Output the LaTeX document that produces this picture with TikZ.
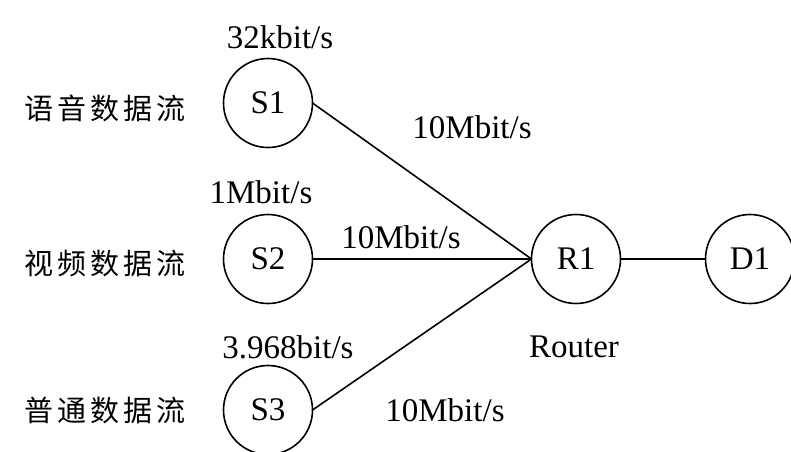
\documentclass[tikz,border=0pt]{standalone}
\usepackage{tkz-graph}
\usepackage{fontspec}
\setmainfont{Liberation Serif}
\newfontfamily\cjk[LetterSpace=14]{Noto Sans CJK SC}

\tikzset{VertexStyle/.style = {shape=circle, draw=black, line width=1.6pt,
    minimum size=89pt, inner sep=0pt, font=\fontsize{33}{38}\selectfont}}
\tikzset{EdgeStyle/.style = {line width=1.6pt}}
\tikzset{rate/.style = {font=\fontsize{33}{38}\selectfont, inner sep=0pt}}
\tikzset{flow/.style = {font=\cjk\fontsize{29}{34}\selectfont, inner sep=0pt}}

\begin{document}
\begin{tikzpicture}[x=1pt, y=-1pt]
    \useasboundingbox (0,0) rectangle (791,451);

    % Vertices
    \Vertex[x=268 ,y=103]{S1}
    \Vertex[x=268 ,y=259]{S2}
    \Vertex[x=268 ,y=410]{S3}
    \Vertex[x=576 ,y=259]{R1}
    \Vertex[x=750 ,y=259]{D1}

    % Edges
    \Edge(S1.east)(R1.west)
    \Edge(S2.east)(R1.west)
    \Edge(S3.east)(R1.west)
    \Edge(R1)(D1)

    % Flows
    \node[flow] (f1) at (105,108) {语音数据流};
    \node[flow] (f2) at (105,263) {视频数据流};
    \node[flow] (f3) at (105,410) {普通数据流};

    % Rates
    \node[rate] (r1) at (280,37) {32kbit/s};
    \node[rate] (r2) at (261,192) {1Mbit/s};
    \node[rate] (r3) at (288,347) {3.968bit/s};
    \node[rate] (l1) at (472,127) {10Mbit/s};
    \node[rate] (l2) at (401,237) {10Mbit/s};
    \node[rate] (l3) at (445,410) {10Mbit/s};
    \node[rate] (rt) at (574,347) {Router};

\end{tikzpicture}
\end{document}
